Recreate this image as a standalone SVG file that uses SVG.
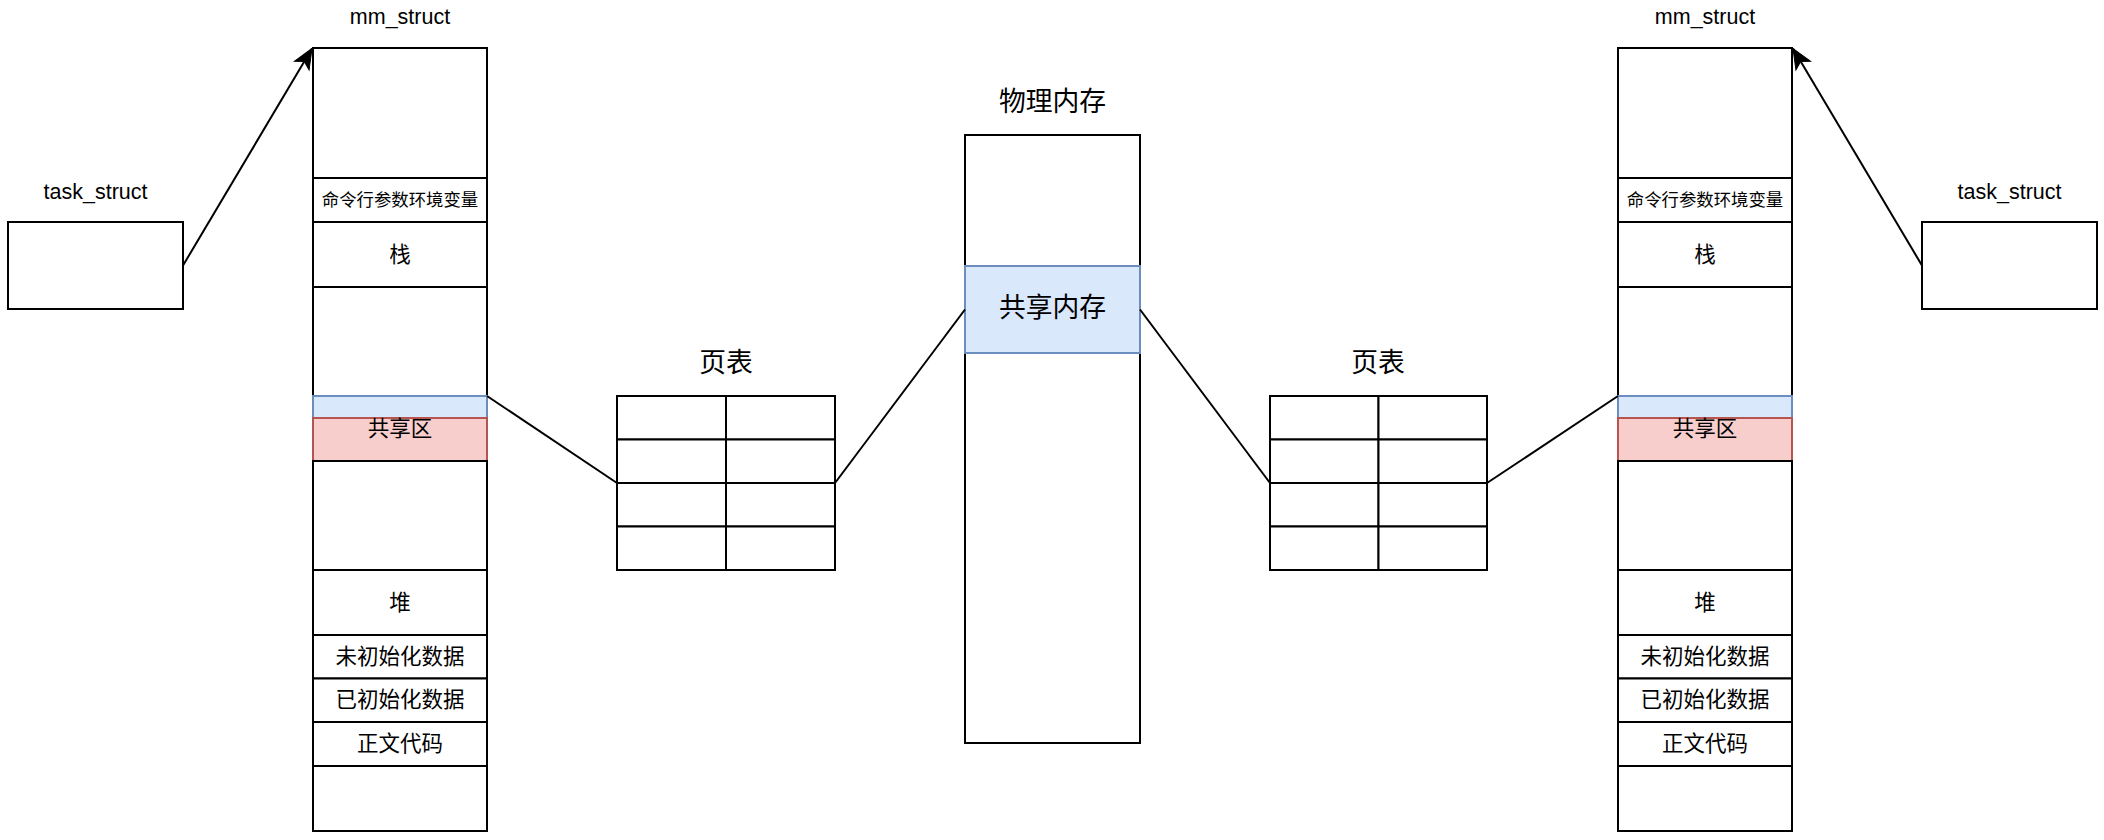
<svg xmlns="http://www.w3.org/2000/svg" width="2104" height="840" viewBox="0 0 2104 840">
<style>
.b{fill:#ffffff;stroke:#000000;stroke-width:2}
.blue{fill:#dae8fc;stroke:#6c8ebf;stroke-width:2}
.pink{fill:#f8cecc;stroke:#b85450;stroke-width:2}
.ln{fill:none;stroke:#000000;stroke-width:2}
text{font-family:"Liberation Sans","Noto Sans CJK SC",sans-serif;font-size:21.5px;fill:#000000;text-anchor:middle;dominant-baseline:central}
.s{font-size:17.4px}
.l{font-size:26.8px}
</style>
<defs>
<marker id="arr" markerUnits="userSpaceOnUse" markerWidth="24" markerHeight="20" viewBox="0 0 24 20" refX="22" refY="10" orient="auto">
<path d="M22,10 L2,1.5 L7,10 L2,18.5 Z" fill="#000000" stroke="#000000" stroke-width="1"/>
</marker>
</defs>
<rect width="2104" height="840" fill="#ffffff"/>

<g id="task-left">
<text x="95.5" y="192">task_struct</text>
<rect class="b" x="8" y="222" width="175" height="87"/>
</g>

<g id="mm-left">
<text x="400" y="17">mm_struct</text>
<rect class="b" x="313" y="48" width="174" height="130"/>
<rect class="b" x="313" y="178" width="174" height="44"/>
<text class="s" x="400" y="200">命令行参数环境变量</text>
<rect class="b" x="313" y="222" width="174" height="65"/>
<text x="400" y="255">栈</text>
<rect class="b" x="313" y="287" width="174" height="109"/>
<rect class="blue" x="313" y="396" width="174" height="22"/>
<rect class="pink" x="313" y="418" width="174" height="43"/>
<text x="400" y="429">共享区</text>
<rect class="b" x="313" y="461" width="174" height="109"/>
<rect class="b" x="313" y="570" width="174" height="65"/>
<text x="400" y="602.5">堆</text>
<rect class="b" x="313" y="635" width="174" height="43.5"/>
<text x="400" y="656.5">未初始化数据</text>
<rect class="b" x="313" y="678.5" width="174" height="43.5"/>
<text x="400" y="700">已初始化数据</text>
<rect class="b" x="313" y="722" width="174" height="44"/>
<text x="400" y="744">正文代码</text>
<rect class="b" x="313" y="766" width="174" height="65"/>
</g>

<g id="pagetable-left">
<text class="l" x="726" y="363">页表</text>
<rect class="b" x="617" y="396" width="109" height="43.5"/>
<rect class="b" x="726" y="396" width="109" height="43.5"/>
<rect class="b" x="617" y="439.5" width="109" height="43.5"/>
<rect class="b" x="726" y="439.5" width="109" height="43.5"/>
<rect class="b" x="617" y="483" width="109" height="43.5"/>
<rect class="b" x="726" y="483" width="109" height="43.5"/>
<rect class="b" x="617" y="526.5" width="109" height="43.5"/>
<rect class="b" x="726" y="526.5" width="109" height="43.5"/>
</g>

<g id="physmem">
<text class="l" x="1052.5" y="102">物理内存</text>
<rect class="b" x="965" y="135" width="175" height="608"/>
<rect class="blue" x="965" y="266" width="175" height="87"/>
<text class="l" x="1052.5" y="308">共享内存</text>
</g>

<g id="pagetable-right">
<text class="l" x="1378" y="363">页表</text>
<rect class="b" x="1270" y="396" width="108.5" height="43.5"/>
<rect class="b" x="1378.5" y="396" width="108.5" height="43.5"/>
<rect class="b" x="1270" y="439.5" width="108.5" height="43.5"/>
<rect class="b" x="1378.5" y="439.5" width="108.5" height="43.5"/>
<rect class="b" x="1270" y="483" width="108.5" height="43.5"/>
<rect class="b" x="1378.5" y="483" width="108.5" height="43.5"/>
<rect class="b" x="1270" y="526.5" width="108.5" height="43.5"/>
<rect class="b" x="1378.5" y="526.5" width="108.5" height="43.5"/>
</g>

<g id="mm-right">
<text x="1705" y="17">mm_struct</text>
<rect class="b" x="1618" y="48" width="174" height="130"/>
<rect class="b" x="1618" y="178" width="174" height="44"/>
<text class="s" x="1705" y="200">命令行参数环境变量</text>
<rect class="b" x="1618" y="222" width="174" height="65"/>
<text x="1705" y="255">栈</text>
<rect class="b" x="1618" y="287" width="174" height="109"/>
<rect class="blue" x="1618" y="396" width="174" height="22"/>
<rect class="pink" x="1618" y="418" width="174" height="43"/>
<text x="1705" y="429">共享区</text>
<rect class="b" x="1618" y="461" width="174" height="109"/>
<rect class="b" x="1618" y="570" width="174" height="65"/>
<text x="1705" y="602.5">堆</text>
<rect class="b" x="1618" y="635" width="174" height="43.5"/>
<text x="1705" y="656.5">未初始化数据</text>
<rect class="b" x="1618" y="678.5" width="174" height="43.5"/>
<text x="1705" y="700">已初始化数据</text>
<rect class="b" x="1618" y="722" width="174" height="44"/>
<text x="1705" y="744">正文代码</text>
<rect class="b" x="1618" y="766" width="174" height="65"/>
</g>

<g id="task-right">
<text x="2009.5" y="192">task_struct</text>
<rect class="b" x="1922" y="222" width="175" height="87"/>
</g>

<g id="connectors">
<line class="ln" x1="183" y1="265.5" x2="312" y2="48.5" marker-end="url(#arr)"/>
<line class="ln" x1="1922" y1="265.5" x2="1793" y2="48.5" marker-end="url(#arr)"/>
<line class="ln" x1="487" y1="396" x2="617" y2="483"/>
<line class="ln" x1="835" y1="483" x2="965" y2="309.5"/>
<line class="ln" x1="1140" y1="309.5" x2="1270" y2="483"/>
<line class="ln" x1="1487" y1="483" x2="1618" y2="396"/>
</g>
</svg>
